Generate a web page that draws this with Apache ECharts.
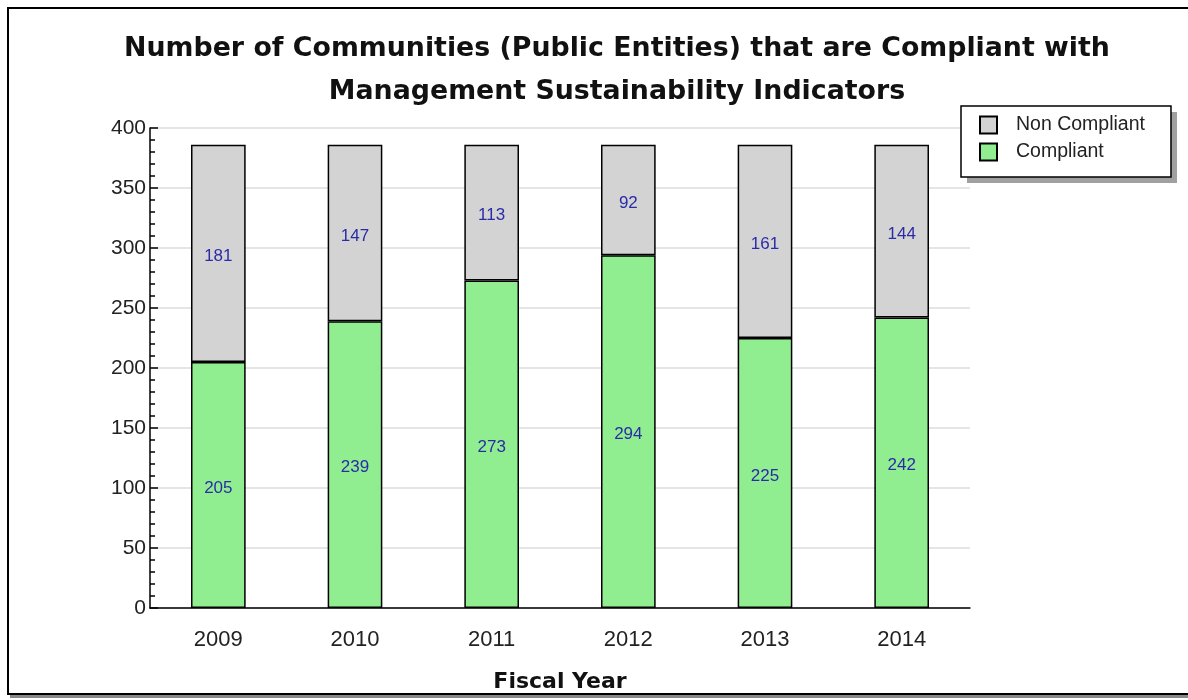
<!DOCTYPE html>
<html>
<head>
<meta charset="utf-8">
<script src="https://cdn.jsdelivr.net/npm/echarts@6/dist/echarts.min.js"></script>
<style>html,body{margin:0;padding:0;background:#fff;}#c{width:1188px;height:700px;}</style>
</head>
<body>
<div id="c"></div>
<script>
var years = ['2009', '2010', '2011', '2012', '2013', '2014'];
var compliant = [205, 239, 273, 294, 225, 242];
var nonCompliant = [181, 147, 113, 92, 161, 144];
var yTicks = [0, 50, 100, 150, 200, 250, 300, 350, 400];

var chart = echarts.init(document.getElementById('c'));
var labelStyle = { show: true, position: 'inside', offset: [0, 3], color: '#2b2ba8', fontSize: 17, fontFamily: 'Liberation Sans, Arial, sans-serif' };
chart.setOption({
  animation: false,
  textStyle: { fontFamily: 'Liberation Sans, Arial, sans-serif' },
  title: {
    text: 'Number of Communities (Public Entities) that are Compliant with\nManagement Sustainability Indicators',
    left: 612, top: 23, textAlign: 'center',
    textStyle: { fontSize: 26.8, fontWeight: 'bold', color: '#111', lineHeight: 43, fontFamily: 'DejaVu Sans, sans-serif' }
  },
  legend: {
    orient: 'vertical', left: 961, top: 106, z: 5,
    data: ['Non Compliant', 'Compliant'],
    icon: 'rect',
    backgroundColor: '#fff', borderColor: '#000', borderWidth: 1.5,
    padding: [9, 26, 15, 18], itemGap: 7,
    itemWidth: 17, itemHeight: 17,
    textStyle: { fontSize: 19.5, color: '#222', padding: [0, 0, 0, 14] }
  },
  grid: { left: 150, right: 218, top: 128, bottom: 92 },
  xAxis: {
    type: 'category', data: years,
    axisLine: { lineStyle: { color: '#000', width: 1.5 } },
    axisTick: { inside: true, length: 8, lineStyle: { color: '#000', width: 1.5 } },
    axisLabel: { fontSize: 22, color: '#222', margin: 21 },
    name: 'Fiscal Year', nameLocation: 'middle', nameGap: 63,
    nameTextStyle: { fontSize: 22, fontWeight: 'bold', color: '#111', fontFamily: 'DejaVu Sans, sans-serif' }
  },
  yAxis: {
    type: 'value', min: yTicks[0], max: yTicks[yTicks.length - 1], interval: 50,
    axisLine: { show: true, lineStyle: { color: '#000', width: 1.5 } },
    axisTick: { show: true, inside: true, length: 8, lineStyle: { color: '#000', width: 1.5 } },
    minorTick: { show: true, splitNumber: 5, length: 5, lineStyle: { color: '#000', width: 1.5 } },
    axisLabel: { fontSize: 21, color: '#222', margin: 4 },
    splitLine: { lineStyle: { color: '#dcdcdc', width: 1.5 } }
  },
  series: [
    {
      name: 'Compliant', type: 'bar', stack: 'a', data: compliant, barWidth: '40%',
      itemStyle: { color: '#90ee90', borderColor: '#000', borderWidth: 1.5 },
      label: labelStyle
    },
    {
      name: 'Non Compliant', type: 'bar', stack: 'a', data: nonCompliant, barWidth: '40%',
      itemStyle: { color: '#d3d3d3', borderColor: '#000', borderWidth: 1.5 },
      label: labelStyle
    }
  ],
  graphic: [
    { type: 'rect', z: 1, shape: { x: 967, y: 112, width: 210, height: 71 }, style: { fill: '#a0a0a0' }, silent: true },
    { type: 'rect', shape: { x: 10, y: 695, width: 1190, height: 3 }, style: { fill: '#888' }, silent: true },
    { type: 'rect', shape: { x: 8, y: 8, width: 1200, height: 686 }, style: { fill: null, stroke: '#000', lineWidth: 2 }, silent: true }
  ]
});
</script>
</body>
</html>
